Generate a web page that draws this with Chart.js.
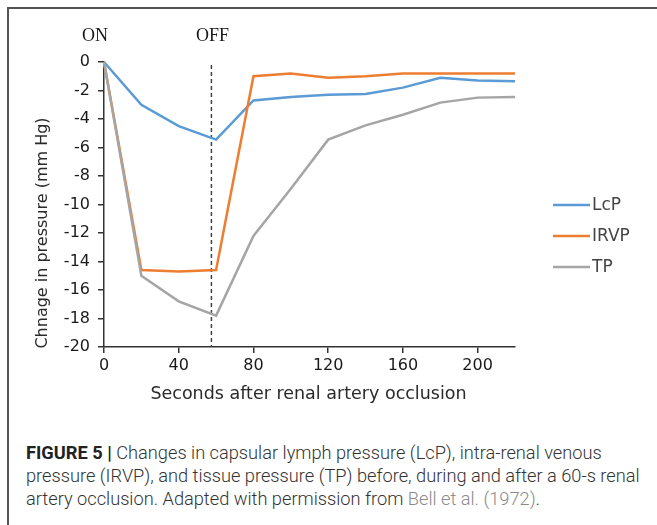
<!DOCTYPE html>
<html lang="en">
<head>
<meta charset="UTF-8">
<title>Figure 5</title>
<script src="https://cdn.jsdelivr.net/npm/chart.js"></script>
<style>
    body { margin: 0; background: #fff; width: 657px; height: 525px; overflow: hidden; position: relative; }
    .frame { position: absolute; left: 7px; top: 7px; width: 700px; height: 600px; border-left: 2px solid #555; border-top: 2px solid #555; }
    #chart { position: absolute; left: 0; top: 0; }
    .caption { position: absolute; left: 26px; top: 441px; font-family: Roboto, "Liberation Sans", sans-serif; font-weight: 300; font-size: 16px; line-height: 23px; color: #333; white-space: nowrap; }
    .caption b { font-weight: 700; color: #222; }
    .caption .ref { color: #8a8a8a; }
</style>
</head>
<body>
    <div class="frame"></div>
    <canvas id="chart" width="657" height="430"></canvas>

    <div class="caption" id="caption">
        <div><b>FIGURE 5 |</b> Changes in capsular lymph pressure (LcP), intra-renal venous</div>
        <div id="line2">pressure (IRVP), and tissue pressure (TP) before, during and after a 60-s renal</div>
        <div>artery occlusion. Adapted with permission from <span class="ref">Bell et al. (1972)</span>.</div>
    </div>

    <script>
        // data
        const seconds = [0, 20, 40, 60, 80, 100, 120, 140, 160, 180, 200, 220];
        const lcpValues = [0, -3.0, -4.5, -5.45, -2.7, -2.45, -2.3, -2.25, -1.8, -1.1, -1.3, -1.35];
        const irvpValues = [0, -14.6, -14.7, -14.6, -1.0, -0.8, -1.1, -1.0, -0.8, -0.8, -0.8, -0.8];
        const tpValues = [0, -15.0, -16.8, -17.8, -12.2, -8.9, -5.45, -4.45, -3.7, -2.85, -2.5, -2.45];

        const xTicks = [0, 40, 80, 120, 160, 200];
        const yTicks = [0, -2, -4, -6, -8, -10, -12, -14, -16, -18, -20];

        const offTime = 57.5; // dashed "OFF" marker
        const seriesNames = ['LcP', 'IRVP', 'TP'];
        const seriesColors = ['#5b9bd5', '#ed7d31', '#a5a5a5'];

        const tickFont = { family: 'DejaVu Sans', size: 16 };

        function toPoints(values) {
            return values.map((v, i) => ({ x: seconds[i], y: v }));
        }

        // extra drawing: dashed marker, ON/OFF, axis titles, legend
        const annotations = {
            id: 'annotations',
            beforeDatasetsDraw(chart) {
                const ctx = chart.ctx;
                const x = chart.scales.x.getPixelForValue(offTime);
                ctx.save();
                ctx.strokeStyle = '#444';
                ctx.lineWidth = 1.5;
                ctx.setLineDash([4, 3]);
                ctx.beginPath();
                ctx.moveTo(x, chart.chartArea.top + 3);
                ctx.lineTo(x, chart.chartArea.bottom);
                ctx.stroke();
                ctx.restore();
            },
            afterDraw(chart) {
                const ctx = chart.ctx;
                const area = chart.chartArea;
                const xs = chart.scales.x;
                ctx.save();

                // ON / OFF
                ctx.fillStyle = '#1a1a1a';
                ctx.font = '18px "Liberation Serif", serif';
                ctx.textAlign = 'center';
                ctx.textBaseline = 'middle';
                ctx.fillText('ON', xs.getPixelForValue(0) - 9, 36);
                ctx.fillText('OFF', xs.getPixelForValue(offTime) + 1, 36);

                // axis titles
                ctx.fillStyle = '#2a2a2a';
                ctx.font = '17.5px "DejaVu Sans"';
                ctx.fillText('Seconds after renal artery occlusion', (area.left + area.right) / 2 - 1, 394);
                ctx.font = '16px "DejaVu Sans"';
                ctx.save();
                ctx.translate(43, 233);
                ctx.rotate(-Math.PI / 2);
                ctx.fillText('Chnage in pressure (mm Hg)', 0, 0);
                ctx.restore();

                // legend
                ctx.textAlign = 'left';
                ctx.font = '17px "DejaVu Sans"';
                chart.data.datasets.forEach((ds, i) => {
                    const y = 205 + i * 31;
                    ctx.strokeStyle = ds.borderColor;
                    ctx.lineWidth = 2.5;
                    ctx.beginPath();
                    ctx.moveTo(area.right + 38, y);
                    ctx.lineTo(area.right + 75, y);
                    ctx.stroke();
                    ctx.fillStyle = '#444';
                    ctx.fillText(ds.label, area.right + 77, y + 1);
                });
                ctx.restore();
            }
        };

        new Chart(document.getElementById('chart'), {
            type: 'line',
            data: {
                datasets: [lcpValues, irvpValues, tpValues].map((vals, i) => ({
                    label: seriesNames[i],
                    data: toPoints(vals),
                    borderColor: seriesColors[i],
                    backgroundColor: seriesColors[i],
                    borderWidth: 2.5,
                    pointRadius: 0,
                    tension: 0,
                    clip: false,
                    order: 2 - i
                }))
            },
            options: {
                responsive: false,
                devicePixelRatio: 1,
                animation: false,
                layout: { padding: { left: 0, top: 62, right: 142, bottom: 0 } },
                plugins: {
                    legend: { display: false },
                    tooltip: { enabled: false }
                },
                scales: {
                    x: {
                        type: 'linear',
                        min: 0,
                        max: 220,
                        afterBuildTicks: s => { s.ticks = xTicks.map(v => ({ value: v })); },
                        afterFit: s => { s.height = 83; },
                        ticks: { font: tickFont, color: '#1a1a1a', padding: 3, maxRotation: 0, autoSkip: false },
                        grid: { drawOnChartArea: false, tickLength: 6, color: '#333', lineWidth: 1.5 },
                        border: { color: '#333', width: 1.5 }
                    },
                    y: {
                        min: -20,
                        max: 0,
                        afterBuildTicks: s => { s.ticks = yTicks.map(v => ({ value: v })); },
                        afterFit: s => { s.width = 104; },
                        ticks: { font: tickFont, color: '#1a1a1a', padding: 8, autoSkip: false },
                        grid: { drawOnChartArea: false, tickLength: 6, color: '#333', lineWidth: 1.5 },
                        border: { color: '#333', width: 1.5 }
                    }
                }
            },
            plugins: [annotations]
        });

        // fit caption width to the figure (second line ~614px wide)
        const caption = document.getElementById('caption');
        const w = document.getElementById('line2').getBoundingClientRect().width;
        caption.style.fontSize = (16 * 614 / w).toFixed(2) + 'px';
    </script>
</body>
</html>
